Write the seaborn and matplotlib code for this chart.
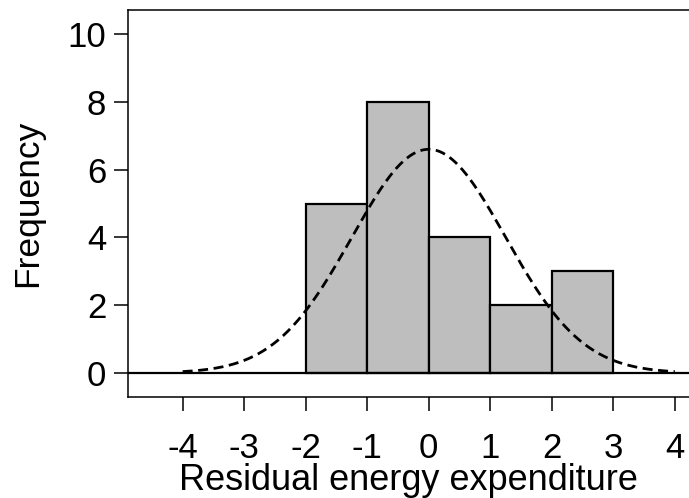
import numpy as np
import pandas as pd
import matplotlib
matplotlib.use("Agg")
import matplotlib.pyplot as plt
import seaborn as sns

# Histogram of residuals
bin_edges = [-2, -1, 0, 1, 2, 3]
bin_counts = [5, 8, 4, 2, 3]

# Fitted normal curve
curve_mean = 0.0
curve_sd = 1.25
curve_peak = 6.6
curve_range = (-4, 4)

x_ticks = [-4, -3, -2, -1, 0, 1, 2, 3, 4]
y_ticks = [0, 2, 4, 6, 8, 10]

sns.set_theme(style="white")
plt.rcParams["font.family"] = ["Liberation Sans", "DejaVu Sans"]
plt.rcParams["text.color"] = "black"
plt.rcParams["axes.labelcolor"] = "black"
plt.rcParams["xtick.color"] = "black"
plt.rcParams["ytick.color"] = "black"

fig = plt.figure(figsize=(6.89, 4.98), dpi=100)
ax = fig.add_axes([0.1865, 0.2028, 0.8135, 0.7771])

centers = [(a + b) / 2 for a, b in zip(bin_edges[:-1], bin_edges[1:])]
hist_df = pd.DataFrame({"x": centers, "w": bin_counts})
sns.histplot(data=hist_df, x="x", weights="w", bins=bin_edges, ax=ax,
             color="#bebebe", alpha=1.0, edgecolor="black", linewidth=1.6)

xs = np.linspace(curve_range[0], curve_range[1], 300)
ys = curve_peak * np.exp(-0.5 * ((xs - curve_mean) / curve_sd) ** 2)
curve_df = pd.DataFrame({"x": xs, "y": ys})
sns.lineplot(data=curve_df, x="x", y="y", ax=ax, color="black",
             linewidth=2.0, dashes=False)
ax.lines[-1].set_dashes((3.6, 2.0))

ax.axhline(0, color="black", linewidth=1.6, zorder=1.5)

ax.set_xlim(-4.88, 4.23)
ax.set_ylim(-0.71, 10.71)
ax.set_xticks(x_ticks)
ax.set_xticklabels([str(v) for v in x_ticks])
ax.set_yticks(y_ticks)
ax.set_yticklabels([str(v) for v in y_ticks])

ax.set_xlabel("Residual energy expenditure", fontsize=26, labelpad=-1)
ax.set_ylabel("Frequency", fontsize=25.5, labelpad=17)
ax.tick_params(axis="both", which="major", labelsize=25, length=10,
               width=1.1, color="black", labelcolor="black",
               direction="out", bottom=True, left=True)
ax.tick_params(axis="x", pad=15)
ax.tick_params(axis="y", pad=6)

for side in ["left", "bottom", "top"]:
    ax.spines[side].set_visible(True)
    ax.spines[side].set_color("black")
    ax.spines[side].set_linewidth(1.1)
ax.spines["right"].set_visible(False)

fig.savefig("out.png", dpi=100)
